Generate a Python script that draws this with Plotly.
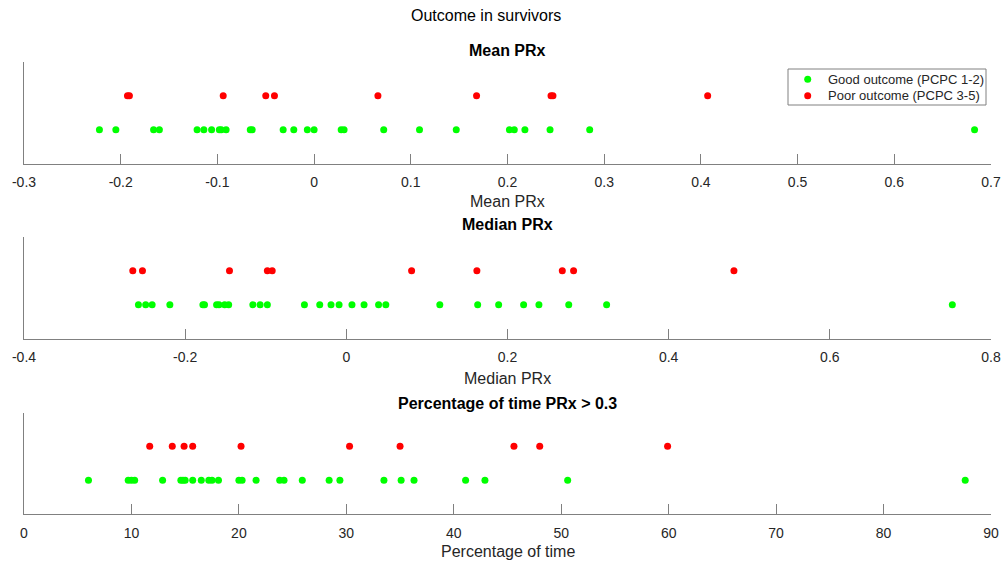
import plotly.graph_objects as go

# ---------------- data ----------------
mean_good = [-0.222, -0.205, -0.166, -0.160, -0.121, -0.114, -0.106, -0.098, -0.096, -0.091,
             -0.066, -0.064, -0.032, -0.021, -0.007, 0.000, 0.028, 0.031, 0.072, 0.109,
             0.147, 0.202, 0.207, 0.218, 0.244, 0.285, 0.683]
mean_poor = [-0.193, -0.191, -0.094, -0.050, -0.041, 0.066, 0.168, 0.245, 0.247, 0.407]

median_good = [-0.258, -0.249, -0.241, -0.219, -0.178, -0.176, -0.161, -0.158, -0.151, -0.146,
               -0.116, -0.107, -0.098, -0.052, -0.033, -0.019, -0.009, 0.007, 0.022, 0.040,
               0.049, 0.116, 0.163, 0.189, 0.220, 0.239, 0.276, 0.323, 0.752]
median_poor = [-0.265, -0.253, -0.145, -0.098, -0.092, 0.081, 0.162, 0.268, 0.282, 0.481]

pct_good = [6.0, 9.7, 10.0, 10.3, 12.9, 14.6, 14.8, 15.0, 15.7, 16.5, 17.2, 17.5, 18.1,
            20.0, 20.3, 21.6, 23.8, 24.2, 25.9, 28.4, 29.4, 33.5, 35.1, 36.3, 41.1, 42.9,
            50.6, 87.6]
pct_poor = [11.7, 13.8, 14.9, 15.7, 20.2, 30.3, 35.0, 45.6, 48.0, 59.9]

mean_ticks = [-0.3, -0.2, -0.1, 0, 0.1, 0.2, 0.3, 0.4, 0.5, 0.6, 0.7]
mean_ticklabels = ["-0.3", "-0.2", "-0.1", "0", "0.1", "0.2", "0.3", "0.4", "0.5", "0.6", "0.7"]
median_ticks = [-0.4, -0.2, 0, 0.2, 0.4, 0.6, 0.8]
median_ticklabels = ["-0.4", "-0.2", "0", "0.2", "0.4", "0.6", "0.8"]
pct_ticks = [0, 10, 20, 30, 40, 50, 60, 70, 80, 90]
pct_ticklabels = ["0", "10", "20", "30", "40", "50", "60", "70", "80", "90"]

titles = ["Mean PRx", "Median PRx", "Percentage of time PRx > 0.3"]
xtitles = ["Mean PRx", "Median PRx", "Percentage of time"]
main_title = "Outcome in survivors"
good_name = "Good outcome (PCPC 1-2)"
poor_name = "Poor outcome (PCPC 3-5)"

# ---------------- layout helpers ----------------
W, H = 1005, 565
ML, MR = 24, 14
PW = W - ML - MR


def py(p):
    return 1 - p / H


def pxx(p):
    return (p - ML) / PW


GREEN = "#00ff00"
RED = "#ff0000"
AX = "#808080"
TXT = "#262626"
FONT = "Liberation Sans, Arial, Helvetica, sans-serif"

panels = [
    (mean_good, mean_poor, [-0.3, 0.7], mean_ticks, mean_ticklabels, (62, 163.5)),
    (median_good, median_poor, [-0.4, 0.8], median_ticks, median_ticklabels, (237, 338.5)),
    (pct_good, pct_poor, [0, 90], pct_ticks, pct_ticklabels, (412.5, 514)),
]
title_y = [50, 224, 403]
xtitle_y = [201, 378, 551]

fig = go.Figure()
annotations = []
shapes = []
for i, (g, p, rng, tv, tt, (top, bot)) in enumerate(panels):
    n = "" if i == 0 else str(i + 1)
    fig.add_trace(go.Scatter(x=g, y=[1] * len(g), mode="markers", name=good_name,
                             marker=dict(color=GREEN, size=7), showlegend=False,
                             xaxis="x" + n, yaxis="y" + n))
    fig.add_trace(go.Scatter(x=p, y=[2] * len(p), mode="markers", name=poor_name,
                             marker=dict(color=RED, size=7), showlegend=False,
                             xaxis="x" + n, yaxis="y" + n))
    fig.update_layout(**{
        "xaxis" + n: dict(domain=[0, 1], range=rng, anchor="y" + n, tickvals=tv, ticktext=tt,
                          ticks="inside", ticklen=10, tickcolor=AX, tickwidth=1,
                          showline=True, linecolor=AX, linewidth=1, showgrid=False,
                          zeroline=False, tickfont=dict(size=14, color=TXT, family=FONT),
                          ticklabelstandoff=6),
        "yaxis" + n: dict(domain=[py(bot), py(top)], range=[0, 3], anchor="x" + n,
                          showline=True, linecolor=AX, linewidth=1, showgrid=False,
                          zeroline=False, showticklabels=False, ticks=""),
    })
    annotations.append(dict(text="<b>" + titles[i] + "</b>", x=0.5, y=py(title_y[i]),
                            xref="paper", yref="paper", xanchor="center", yanchor="middle",
                            showarrow=False, font=dict(size=16, color="#000000", family=FONT)))
    annotations.append(dict(text=xtitles[i], x=0.5, y=py(xtitle_y[i]),
                            xref="paper", yref="paper", xanchor="center", yanchor="middle",
                            showarrow=False, font=dict(size=16, color=TXT, family=FONT)))

annotations.append(dict(text=main_title, x=pxx(486), y=py(15), xref="paper", yref="paper",
                        xanchor="center", yanchor="middle", showarrow=False,
                        font=dict(size=16, color="#000000", family=FONT)))

# ---------------- compact legend (box, symbols, labels) ----------------
LX0, LX1, LY0, LY1 = 788, 986, 69, 105
shapes.append(dict(type="rect", xref="paper", yref="paper",
                   x0=pxx(LX0), x1=pxx(LX1), y0=py(LY1), y1=py(LY0),
                   line=dict(color="#808080", width=1), fillcolor="white", layer="above"))
for (label, col, cy) in [(good_name, GREEN, 79.3), (poor_name, RED, 95.7)]:
    r = 3.5
    cx = 807.7
    shapes.append(dict(type="circle", xref="paper", yref="paper",
                       x0=pxx(cx - r), x1=pxx(cx + r), y0=py(cy + r), y1=py(cy - r),
                       line=dict(width=0), fillcolor=col, layer="above"))
    annotations.append(dict(text=label, x=pxx(826), y=py(cy), xref="paper", yref="paper",
                            xanchor="left", yanchor="middle", showarrow=False,
                            font=dict(size=13, color=TXT, family=FONT)))

fig.update_layout(
    width=W, height=H,
    margin=dict(l=ML, r=MR, t=0, b=0, autoexpand=False),
    paper_bgcolor="white", plot_bgcolor="white",
    annotations=annotations,
    shapes=shapes,
    showlegend=False,
    font=dict(family=FONT),
)

fig.write_html("out.html", config={"displayModeBar": False},
               post_script="document.body.style.margin='0';document.body.style.overflow='hidden';")
